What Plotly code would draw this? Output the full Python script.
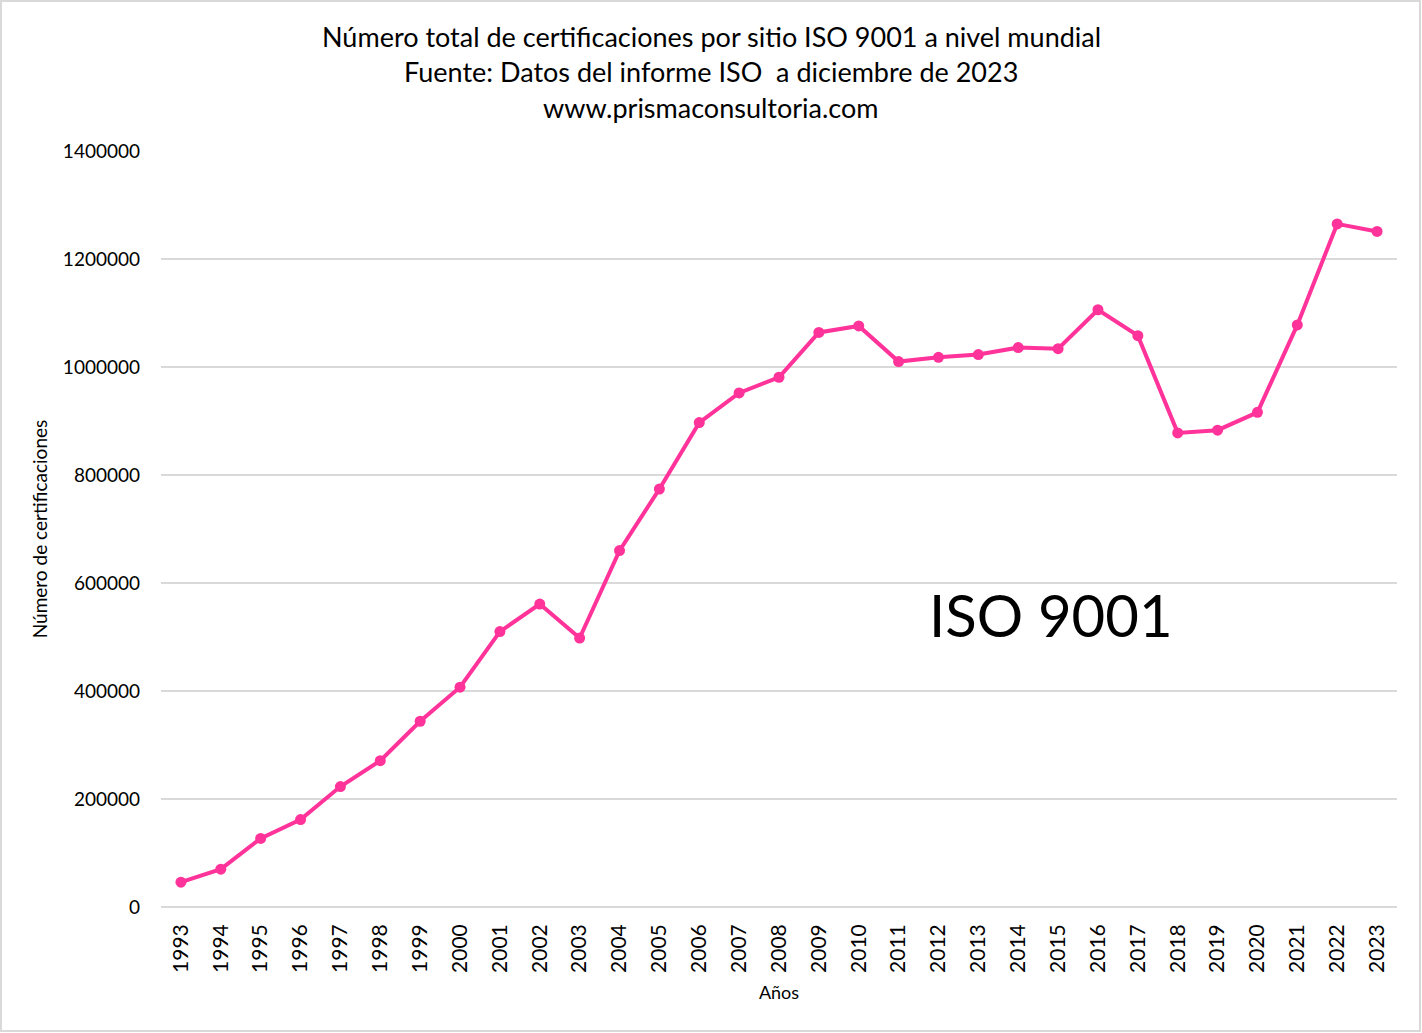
import plotly.graph_objects as go

years = [str(y) for y in range(1993, 2024)]
certificaciones = [
    46000, 70000, 127000, 162000, 223000, 271000, 344000, 407000, 510000, 561000,
    498000, 660000, 774000, 897000, 952000, 981000, 1064000, 1076000, 1010000, 1018000,
    1023000, 1036000, 1034000, 1106000, 1058000, 878000, 883000, 916000, 1078000, 1265000,
    1251000,
]
y_ticks = [0, 200000, 400000, 600000, 800000, 1000000, 1200000, 1400000]
title_lines = [
    "Número total de certificaciones por sitio ISO 9001 a nivel mundial",
    "Fuente: Datos del informe ISO  a diciembre de 2023",
    "www.prismaconsultoria.com",
]

W, H = 1422, 1033
ml, mr, mt, mb = 161, 25, 151, 126
pw, ph = W - ml - mr, H - mt - mb


def px(pix):
    # page pixel column -> paper x
    return (pix - ml) / pw


def py(pix):
    # page pixel row -> paper y
    return (H - mb - pix) / ph


fig = go.Figure()
fig.add_trace(go.Scatter(
    x=years, y=certificaciones, mode="lines+markers",
    line=dict(color="#ff3399", width=4),
    marker=dict(color="#ff3399", size=11),
    showlegend=False,
))

fig.update_layout(
    width=W, height=H,
    margin=dict(l=ml, r=mr, t=mt, b=mb),
    paper_bgcolor="white", plot_bgcolor="white",
    font=dict(family="Lato, Open Sans, sans-serif", color="#000000"),
    xaxis=dict(
        type="category", range=[-0.5, 30.5],
        tickangle=-90, tickfont=dict(size=21), ticklabelstandoff=12,
        showgrid=False, showline=False, ticks="",
        title=dict(text="Años", font=dict(size=18), standoff=14),
    ),
    yaxis=dict(
        range=[0, 1400000], tickvals=y_ticks, tickformat="d",
        tickfont=dict(size=19), ticklabelstandoff=20,
        showgrid=True, gridcolor="#d9d9d9", gridwidth=1.5,
        zeroline=True, zerolinecolor="#d9d9d9", zerolinewidth=1.5,
        showline=False, ticks="",
        title=dict(text="Número de certificaciones", font=dict(size=19), standoff=10),
    ),
)

for line, row in zip(title_lines, [36, 71, 107]):
    fig.add_annotation(
        text=line, x=px(711), y=py(row), xref="paper", yref="paper",
        xanchor="center", yanchor="middle", showarrow=False,
        font=dict(size=27, color="#000000"),
    )

fig.add_annotation(
    text="ISO 9001", x=px(1051), y=py(614), xref="paper", yref="paper",
    xanchor="center", yanchor="middle",
    showarrow=False, font=dict(size=58, color="#000000"),
)

fig.add_shape(
    type="rect", xref="paper", yref="paper",
    x0=px(1), x1=px(W - 2), y0=py(H - 2), y1=py(1),
    line=dict(color="#d9d9d9", width=2), fillcolor="rgba(0,0,0,0)",
)

fig.write_html("out.html", config={"displayModeBar": False},
               post_script="document.body.style.margin='0';")
